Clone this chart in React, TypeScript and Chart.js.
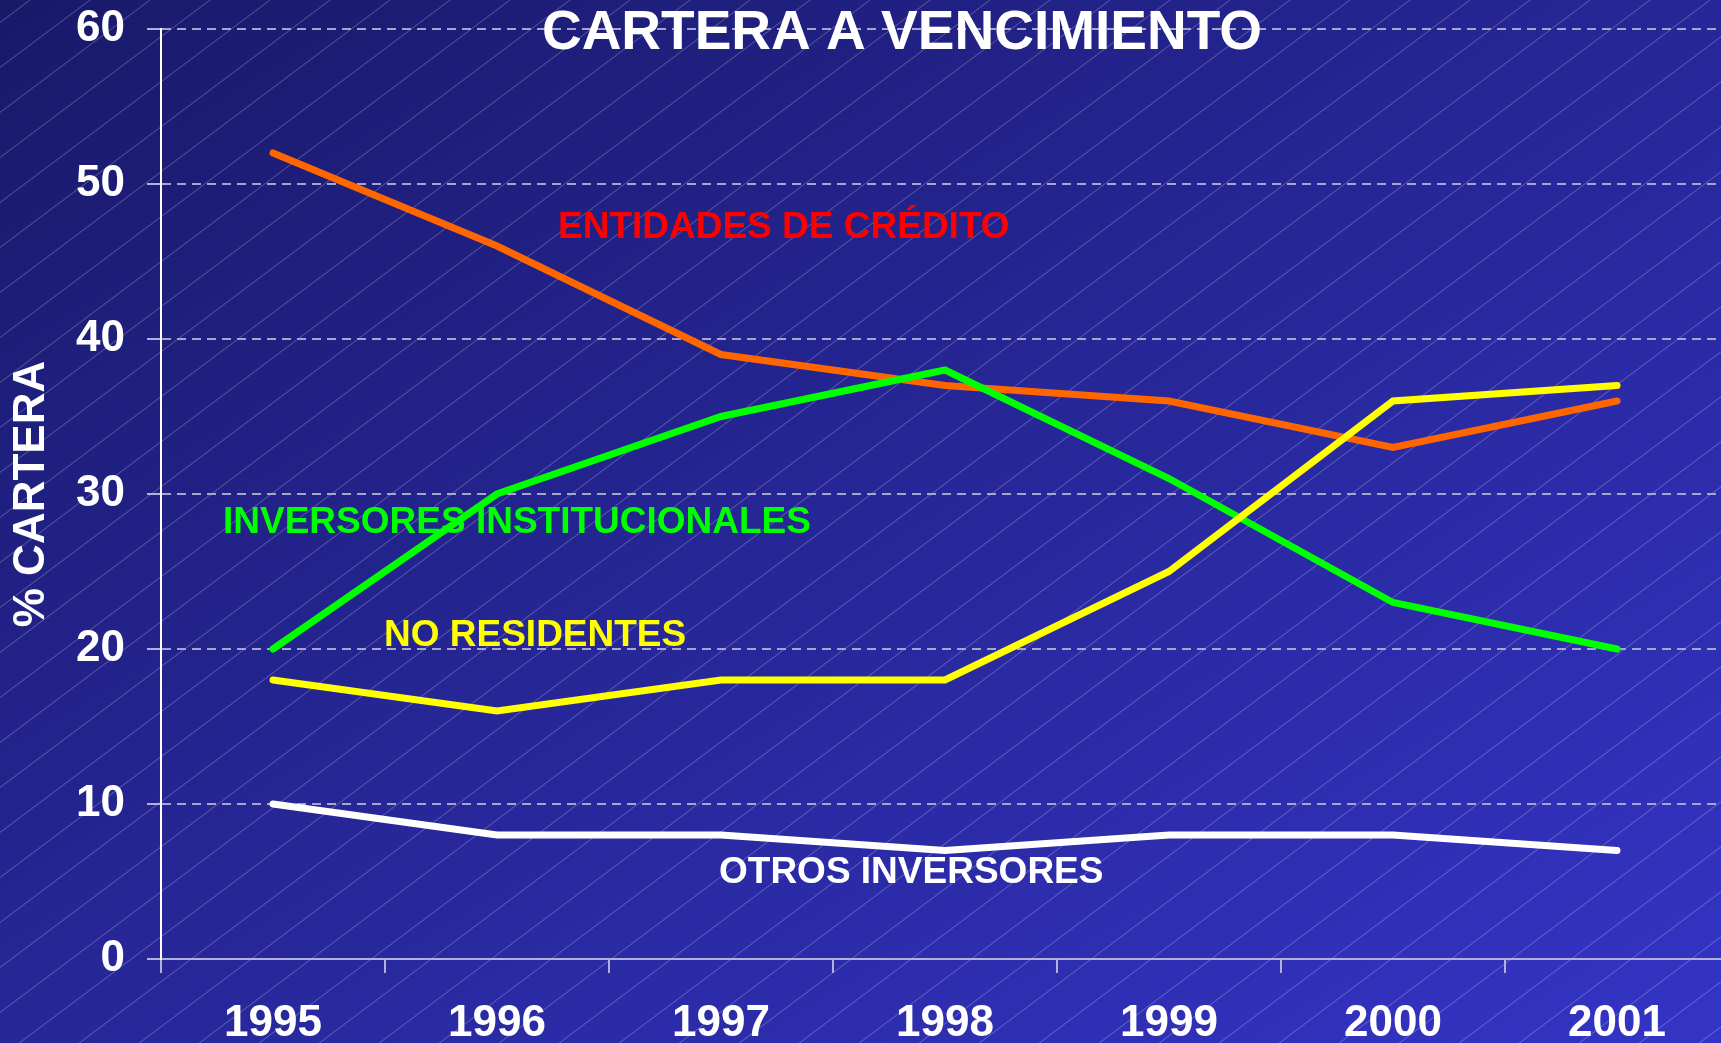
import React, { useEffect, useRef } from "react";
import { Chart, registerables } from "chart.js";

Chart.register(...registerables);

// ---- Data ----
const years = ["1995", "1996", "1997", "1998", "1999", "2000", "2001"];
const entidadesCredito = [52, 46, 39, 37, 36, 33, 36];
const inversoresInstitucionales = [20, 30, 35, 38, 31, 23, 20];
const noResidentes = [18, 16, 18, 18, 25, 36, 37];
const otrosInversores = [10, 8, 8, 7, 8, 8, 7];
const yMin = 0;
const yMax = 60;
const yStep = 10;
const chartTitle = "CARTERA A VENCIMIENTO";
const yAxisTitle = "% CARTERA";
const seriesNames = [
  "ENTIDADES DE CRÉDITO",
  "INVERSORES INSTITUCIONALES",
  "NO RESIDENTES",
  "OTROS INVERSORES",
];

const FONT = '"Liberation Sans", Arial, Helvetica, sans-serif';
const LAVENDER = "#b0b0d8";
const GRID = "#a6a6cc";

const bgPlugin = {
  id: "bgPlugin",
  beforeDraw(chart: any) {
    const ctx = chart.ctx;
    const w = chart.width;
    const h = chart.height;
    ctx.save();
    const g = ctx.createLinearGradient(0, 0, 925, 1526);
    g.addColorStop(0, "#19196a");
    g.addColorStop(1, "#3434c6");
    ctx.fillStyle = g;
    ctx.fillRect(0, 0, w, h);
    ctx.strokeStyle = "rgba(255,255,255,0.28)";
    ctx.lineWidth = 1;
    ctx.beginPath();
    for (let c = 22.5; c < 0.75 * w + h + 45; c += 45) {
      ctx.moveTo(0, c);
      ctx.lineTo(w, c - 0.75 * w);
    }
    ctx.stroke();
    ctx.restore();
  },
};

const textPlugin = {
  id: "textPlugin",
  afterDraw(chart: any) {
    const ctx = chart.ctx;
    ctx.save();
    ctx.textBaseline = "alphabetic";
    // title
    ctx.font = `bold 55px ${FONT}`;
    ctx.textAlign = "center";
    ctx.fillStyle = "#ffffff";
    ctx.fillText(chartTitle, 902, 49);
    // series labels
    const labels = [
      { text: seriesNames[0], color: "#ff0000", x: 558, y: 238 },
      { text: seriesNames[1], color: "#00ff00", x: 223, y: 533 },
      { text: seriesNames[2], color: "#ffff00", x: 384, y: 646 },
      { text: seriesNames[3], color: "#ffffff", x: 719, y: 883 },
    ];
    ctx.font = `bold 37px ${FONT}`;
    ctx.textAlign = "left";
    for (const l of labels) {
      ctx.fillStyle = l.color;
      ctx.fillText(l.text, l.x, l.y);
    }
    ctx.restore();
  },
};

export default function App() {
  const ref = useRef<HTMLCanvasElement | null>(null);

  useEffect(() => {
    if (!ref.current) return;
    Chart.defaults.font.family = FONT;
    const lineDs = (label: string, data: number[], color: string) => ({
      label,
      data,
      borderColor: color,
      backgroundColor: color,
      borderWidth: 7,
      pointRadius: 0,
      pointHoverRadius: 0,
      tension: 0,
      fill: false,
      borderCapStyle: "round" as const,
      borderJoinStyle: "miter" as const,
    });
    const chart = new Chart(ref.current, {
      type: "line",
      data: {
        labels: years,
        datasets: [
          lineDs(seriesNames[2], noResidentes, "#ffff00"),
          lineDs(seriesNames[1], inversoresInstitucionales, "#00ff00"),
          lineDs(seriesNames[0], entidadesCredito, "#ff6600"),
          lineDs(seriesNames[3], otrosInversores, "#ffffff"),
        ],
      },
      options: {
        responsive: false,
        animation: false,
        devicePixelRatio: 1,
        layout: { padding: { top: 29, left: 0, right: 1, bottom: 0 } },
        plugins: {
          legend: { display: false },
          tooltip: { enabled: false },
          title: { display: false },
        },
        scales: {
          x: {
            type: "category",
            offset: true,
            grid: {
              offset: true,
              drawOnChartArea: false,
              drawTicks: true,
              tickLength: 14,
              tickColor: LAVENDER,
              tickWidth: 2,
              lineWidth: 2,
              color: LAVENDER,
              tickBorderDash: [],
            },
            border: { display: true, color: LAVENDER, width: 2 },
            ticks: {
              color: "#ffffff",
              font: { family: FONT, size: 44, weight: "bold" },
              padding: 24,
              maxRotation: 0,
              autoSkip: false,
            },
            afterFit: (s: any) => {
              s.height = 84;
              s.paddingLeft = 0;
              s.paddingRight = 0;
            },
          },
          y: {
            min: yMin,
            max: yMax,
            grid: {
              color: (c: any) => (c.tick && c.tick.value === 0 ? "rgba(0,0,0,0)" : GRID),
              lineWidth: 2,
              drawTicks: true,
              tickLength: 14,
              tickColor: LAVENDER,
              tickWidth: 2,
              tickBorderDash: [],
            },
            border: { display: true, color: "#ffffff", width: 2, dash: [9, 6] },
            ticks: {
              stepSize: yStep,
              color: "#ffffff",
              font: { family: FONT, size: 44, weight: "bold" },
              padding: 22,
            },
            title: {
              display: true,
              text: yAxisTitle,
              color: "#ffffff",
              font: { family: FONT, size: 44, weight: "bold" },
              padding: { top: 5, bottom: 0 },
            },
            afterFit: (s: any) => {
              s.width = 161;
              s.paddingTop = 0;
              s.paddingBottom = 0;
            },
          },
        },
      },
      plugins: [bgPlugin, textPlugin],
    });
    return () => chart.destroy();
  }, []);

  return (
    <div
      style={{
        position: "fixed",
        left: 0,
        top: 0,
        width: 1721,
        height: 1043,
        overflow: "hidden",
      }}
    >
      <canvas
        ref={ref}
        width={1730}
        height={1043}
        style={{ width: 1730, height: 1043, display: "block" }}
      />
    </div>
  );
}
